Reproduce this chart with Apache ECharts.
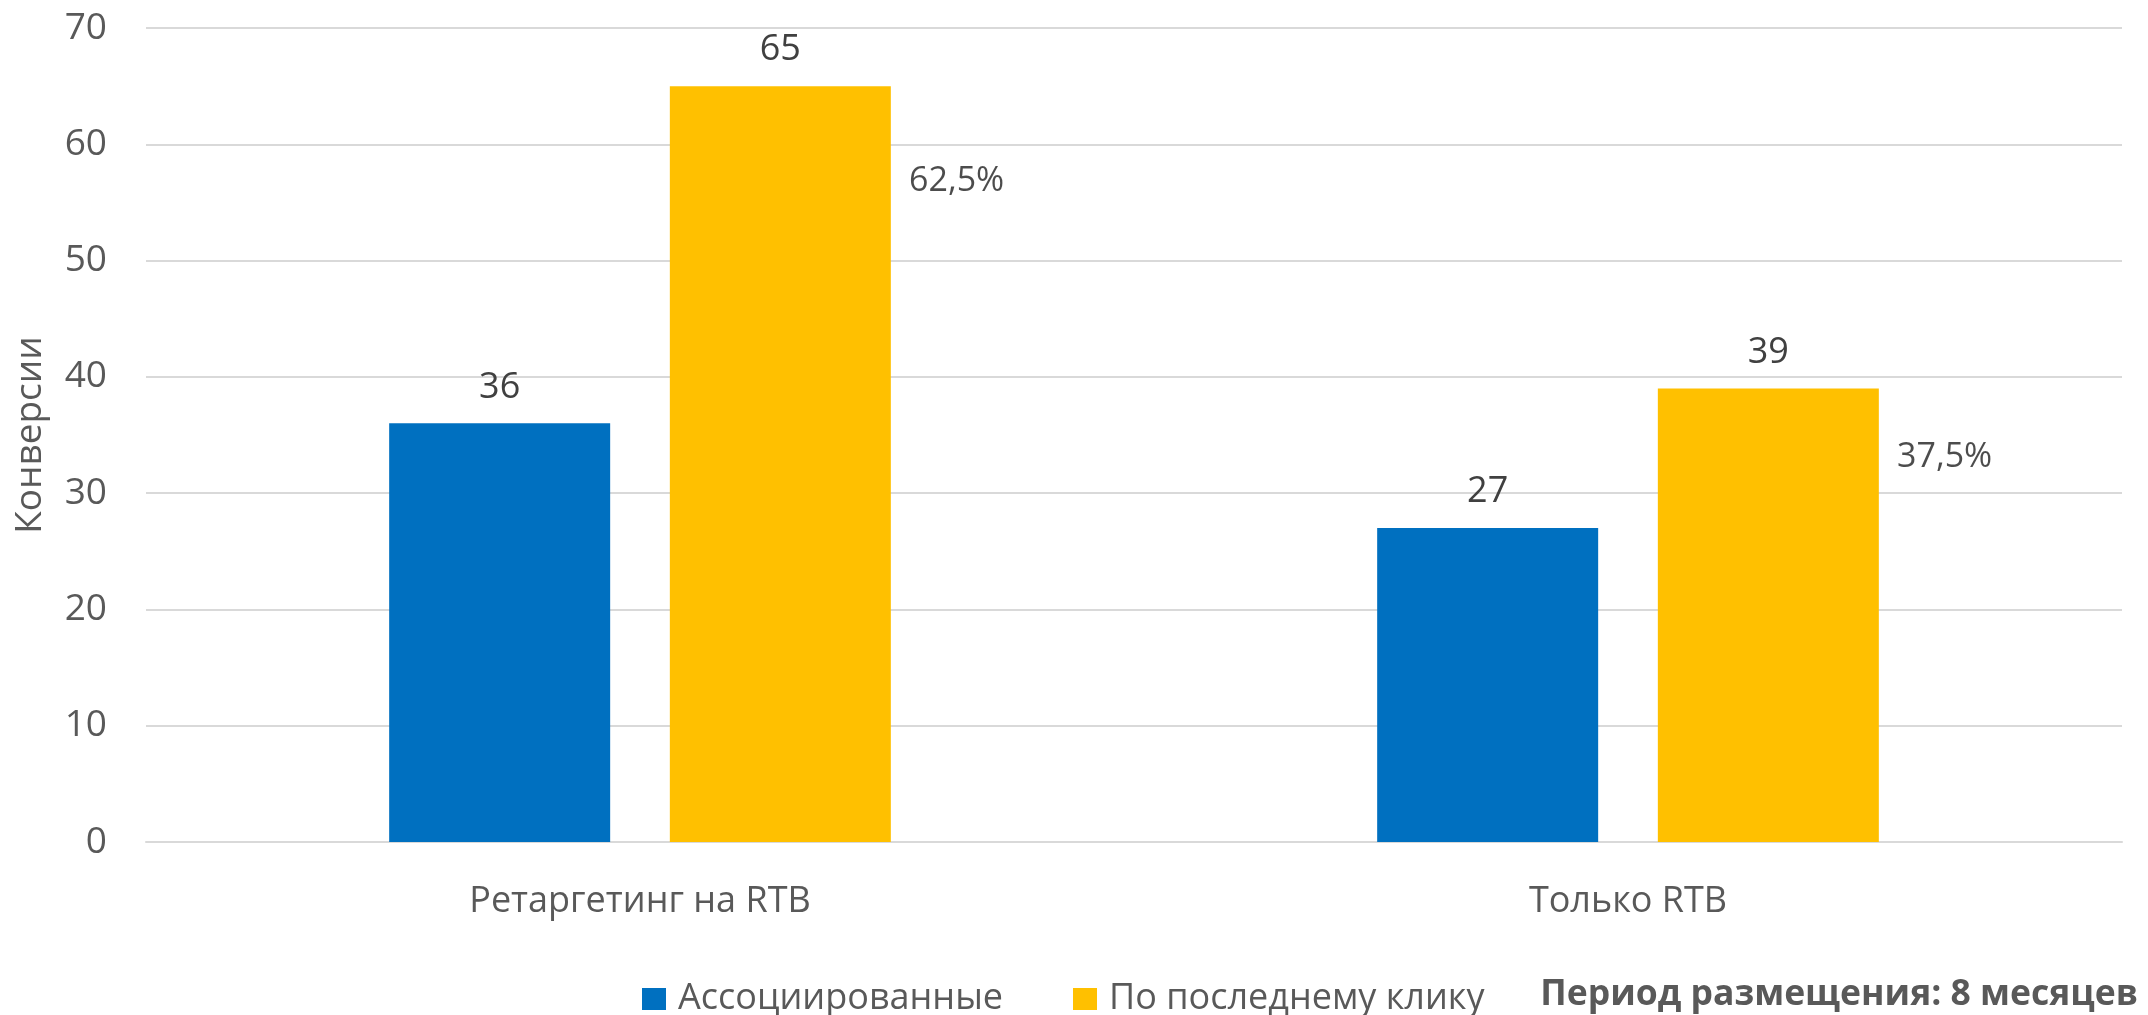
<!DOCTYPE html>
<html>
<head>
<meta charset="utf-8">
<script src="https://cdn.jsdelivr.net/npm/echarts@6/dist/echarts.min.js"></script>
<style>
html,body{margin:0;padding:0;background:#fff;}
#chart{width:2148px;height:1015px;}
</style>
</head>
<body>
<div id="chart"></div>
<script>
const categories = ['Ретаргетинг на RTB', 'Только RTB'];
const seriesNames = ['Ассоциированные', 'По последнему клику'];
const associated = [36, 27];
const lastClick = [65, 39];
const shareLabels = ['62,5%', '37,5%'];
const shareLabelLevel = [56.8, 33.1];
const yTicks = [0, 10, 20, 30, 40, 50, 60, 70];
const yAxisName = 'Конверсии';
const note = 'Период размещения: 8 месяцев';

const FONT = '"Open Sans", "Noto Sans", sans-serif';
const chart = echarts.init(document.getElementById('chart'), null, {renderer: 'canvas'});
chart.setOption({
  animation: false,
  backgroundColor: '#ffffff',
  textStyle: {fontFamily: FONT},
  title: {
    text: note,
    right: 5,
    top: 972,
    textStyle: {fontFamily: FONT, fontSize: 35.5, fontWeight: 'bold', color: '#595959'}
  },
  legend: {
    data: seriesNames,
    left: 637,
    top: 976,
    icon: 'rect',
    itemWidth: 24,
    itemHeight: 22,
    itemGap: 70,
    textStyle: {fontFamily: FONT, fontSize: 36, color: '#595959', padding: [0, 0, 0, 7]}
  },
  grid: {left: 146, right: 26, top: 28, bottom: 173, outerBoundsMode: 'none', containLabel: false},
  xAxis: {
    type: 'category',
    data: categories,
    axisLine: {show: true, lineStyle: {color: '#D9D9D9', width: 2}},
    axisTick: {show: false},
    axisLabel: {fontFamily: FONT, fontSize: 36, color: '#595959', margin: 42}
  },
  yAxis: {
    type: 'value',
    min: yTicks[0],
    max: yTicks[yTicks.length - 1],
    interval: 10,
    name: yAxisName,
    nameLocation: 'middle',
    nameGap: 97,
    nameTextStyle: {fontFamily: FONT, fontSize: 37, color: '#595959'},
    axisLine: {show: false},
    axisTick: {show: false},
    axisLabel: {fontFamily: FONT, fontSize: 37, color: '#595959', margin: 39},
    splitLine: {lineStyle: {color: '#D9D9D9', width: 2}}
  },
  series: [
    {
      name: seriesNames[0],
      type: 'bar',
      data: associated,
      barWidth: 221,
      barGap: '27%',
      itemStyle: {color: '#0070C0'},
      label: {show: true, position: 'top', distance: 18, fontFamily: FONT, fontSize: 36, color: '#404040'}
    },
    {
      name: seriesNames[1],
      type: 'bar',
      data: lastClick,
      barWidth: 221,
      barGap: '27%',
      itemStyle: {color: '#FFC000'},
      label: {show: true, position: 'top', distance: 18, fontFamily: FONT, fontSize: 36, color: '#404040'}
    },
    {
      name: 'shares',
      type: 'scatter',
      data: categories.map((c, i) => ({value: [c, shareLabelLevel[i]], label: {formatter: shareLabels[i]}})),
      symbolSize: 0,
      silent: true,
      label: {show: true, position: 'inside', align: 'left', offset: [269, 0], fontFamily: FONT, fontSize: 34, color: '#1f1f1f'}
    }
  ]
});
</script>
</body>
</html>
